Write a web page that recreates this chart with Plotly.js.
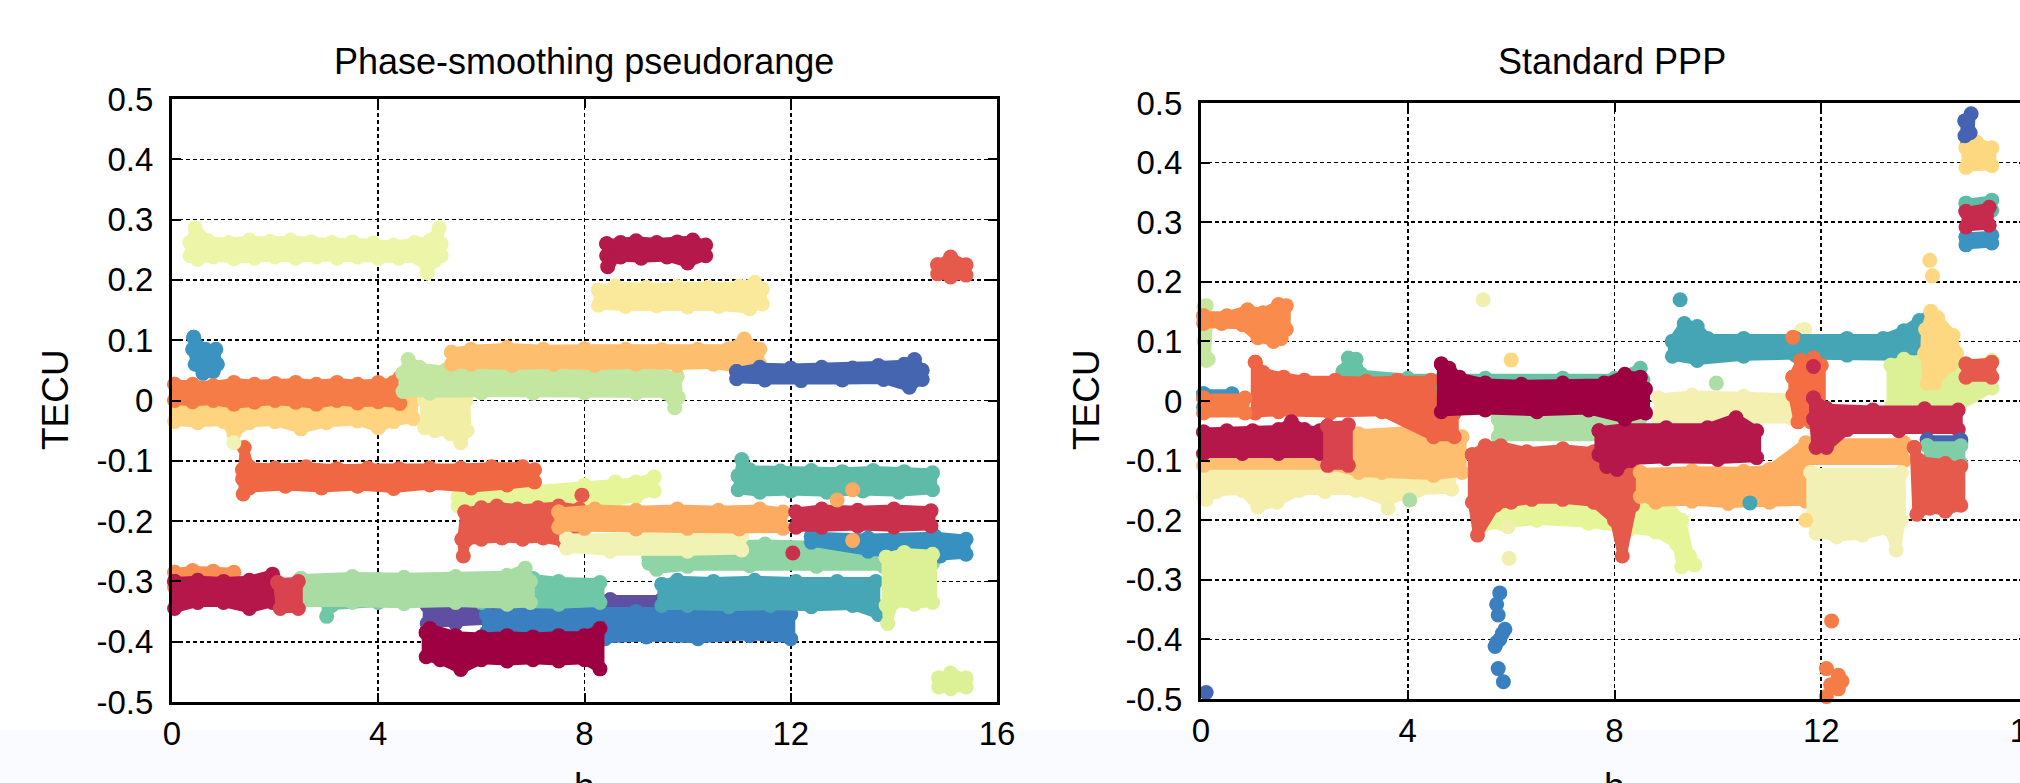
<!DOCTYPE html>
<html><head><meta charset="utf-8">
<script src="https://cdn.plot.ly/plotly-3.0.1.min.js"></script>
<style>html,body{margin:0;padding:0;overflow:hidden;background:#fff}#chart{width:2060px;height:783px}</style>
</head><body><div id="chart"></div>
<script>
// ================= DATA =================
const xTickVals = [0, 4, 8, 12, 16];
const xTickText = ['0', '4', '8', '12', '16'];
const yTickVals = [-0.5, -0.4, -0.3, -0.2, -0.1, 0, 0.1, 0.2, 0.3, 0.4, 0.5];
const yTickText = ['-0.5', '-0.4', '-0.3', '-0.2', '-0.1', '0', '0.1', '0.2', '0.3', '0.4', '0.5'];
const panelTitles = ['Phase-smoothing pseudorange', 'Standard PPP'];
const yAxisLabel = 'TECU';
const xAxisLabel = 'h';

// ---- Phase-smoothing pseudorange: outline points of each satellite's band (h, TECU) ----
const ps_lightOrange0_x = [0.05, 1.0, 2.0, 3.0, 4.0, 4.68, 4.68, 4.3, 4.0, 3.6, 3.0, 2.5, 2.0, 1.5, 1.2, 1.0, 0.5, 0.05];
const ps_lightOrange0_y = [0.0, 0.0, 0.0, 0.0, 0.0, 0.0, -0.03, -0.035, -0.045, -0.034, -0.037, -0.047, -0.035, -0.037, -0.055, -0.035, -0.037, -0.035];
const ps_blue0_x = [0.42, 0.5, 0.65, 0.85, 0.88, 0.8, 0.6, 0.45, 0.4];
const ps_blue0_y = [0.105, 0.09, 0.085, 0.085, 0.06, 0.048, 0.045, 0.06, 0.085];
const ps_orange0_x = [0.05, 0.4, 0.8, 1.2, 1.6, 2.0, 2.4, 2.8, 3.2, 3.6, 4.0, 4.3, 4.42, 4.42, 4.0, 3.6, 3.2, 2.8, 2.4, 2.0, 1.6, 1.2, 0.8, 0.4, 0.05];
const ps_orange0_y = [0.027, 0.027, 0.025, 0.03, 0.027, 0.028, 0.03, 0.027, 0.03, 0.027, 0.03, 0.03, 0.038, -0.005, -0.002, -0.004, 0.0, -0.006, -0.003, 0.0, -0.003, -0.006, 0.0, -0.002, 0.0];
const ps_paleGreen0_x = [0.35, 0.45, 0.7, 1.1, 1.5, 1.9, 2.3, 2.7, 3.1, 3.5, 3.9, 4.3, 4.7, 5.0, 5.18, 5.22, 5.22, 5.1, 4.95, 4.8, 4.4, 4.0, 3.6, 3.2, 2.8, 2.4, 2.0, 1.6, 1.2, 0.8, 0.5, 0.35];
const ps_paleGreen0_y = [0.262, 0.286, 0.265, 0.262, 0.266, 0.264, 0.266, 0.263, 0.262, 0.263, 0.261, 0.258, 0.262, 0.265, 0.286, 0.26, 0.24, 0.232, 0.212, 0.235, 0.236, 0.236, 0.238, 0.236, 0.238, 0.236, 0.238, 0.236, 0.235, 0.238, 0.234, 0.24];
const ps_khaki0_x = [4.9, 5.2, 5.5, 5.7, 5.72, 5.6, 5.4, 5.1, 4.9];
const ps_khaki0_y = [0.0, 0.005, 0.006, 0.0, -0.05, -0.07, -0.055, -0.05, -0.045];
const ps_lightGreen0_x = [4.48, 4.58, 4.8, 5.3, 6.5, 8.0, 9.3, 9.8, 9.82, 9.75, 9.6, 9.0, 8.0, 7.0, 6.0, 5.0, 4.48];
const ps_lightGreen0_y = [0.045, 0.068, 0.055, 0.05, 0.05, 0.05, 0.048, 0.04, 0.005, -0.012, 0.012, 0.012, 0.013, 0.012, 0.013, 0.012, 0.015];
const ps_lightOrange1_x = [5.42, 5.8, 6.5, 7.2, 8.0, 8.8, 9.5, 10.2, 10.8, 11.1, 11.4, 11.4, 11.2, 10.5, 9.8, 9.0, 8.2, 7.4, 6.6, 5.8, 5.42];
const ps_lightOrange1_y = [0.08, 0.085, 0.088, 0.085, 0.086, 0.085, 0.084, 0.085, 0.086, 0.102, 0.085, 0.06, 0.05, 0.06, 0.058, 0.06, 0.058, 0.06, 0.058, 0.06, 0.06];
const ps_paleYellow0_x = [8.27, 8.6, 9.2, 9.8, 10.4, 11.0, 11.3, 11.45, 11.45, 11.2, 10.6, 10.0, 9.4, 8.8, 8.27];
const ps_paleYellow0_y = [0.183, 0.19, 0.188, 0.189, 0.188, 0.19, 0.196, 0.185, 0.16, 0.152, 0.156, 0.155, 0.157, 0.156, 0.158];
const ps_crimson0_x = [8.43, 8.7, 9.0, 9.4, 9.8, 10.1, 10.35, 10.35, 10.0, 9.6, 9.1, 8.7, 8.5, 8.45, 8.43];
const ps_crimson0_y = [0.26, 0.262, 0.265, 0.262, 0.263, 0.266, 0.258, 0.24, 0.228, 0.238, 0.236, 0.238, 0.232, 0.222, 0.24];
const ps_darkBlue0_x = [10.95, 11.4, 12.0, 12.6, 13.2, 13.7, 14.2, 14.4, 14.55, 14.55, 14.3, 13.8, 13.0, 12.2, 11.5, 10.95];
const ps_darkBlue0_y = [0.048, 0.055, 0.054, 0.055, 0.054, 0.058, 0.06, 0.068, 0.05, 0.035, 0.022, 0.035, 0.034, 0.033, 0.034, 0.036];
const ps_red0_x = [14.85, 15.1, 15.4, 15.4, 15.1, 14.85];
const ps_red0_y = [0.225, 0.238, 0.225, 0.208, 0.205, 0.21];
const ps_yellowGreen0_x = [5.55, 6.0, 7.0, 8.0, 8.6, 9.0, 9.35, 9.35, 9.0, 8.0, 7.0, 6.0, 5.55];
const ps_yellowGreen0_y = [-0.16, -0.15, -0.148, -0.14, -0.135, -0.135, -0.127, -0.15, -0.16, -0.18, -0.178, -0.178, -0.175];
const ps_orangeRed0_x = [1.37, 1.4, 1.5, 2.0, 2.6, 3.2, 3.8, 4.4, 5.0, 5.6, 6.2, 6.8, 7.03, 7.03, 6.5, 5.8, 5.0, 4.3, 3.6, 2.9, 2.2, 1.5, 1.38, 1.37];
const ps_orangeRed0_y = [-0.115, -0.078, -0.11, -0.112, -0.11, -0.113, -0.112, -0.113, -0.112, -0.112, -0.11, -0.11, -0.115, -0.135, -0.14, -0.145, -0.14, -0.146, -0.142, -0.145, -0.142, -0.145, -0.155, -0.13];
const ps_red1_x = [5.68, 6.0, 6.3, 6.7, 7.1, 7.5, 7.9, 7.9, 7.6, 7.2, 6.8, 6.4, 6.0, 5.7, 5.65, 5.62];
const ps_red1_y = [-0.185, -0.178, -0.175, -0.18, -0.178, -0.175, -0.18, -0.225, -0.235, -0.228, -0.23, -0.228, -0.23, -0.232, -0.258, -0.23];
const ps_green0_x = [9.25, 9.6, 10.5, 11.5, 12.5, 13.5, 14.2, 14.75, 14.75, 13.8, 12.5, 11.2, 10.0, 9.4, 9.25];
const ps_green0_y = [-0.26, -0.245, -0.24, -0.238, -0.24, -0.238, -0.24, -0.245, -0.27, -0.275, -0.275, -0.274, -0.275, -0.28, -0.27];
const ps_pale0_x = [7.65, 9.0, 10.5, 11.05, 11.05, 10.0, 8.5, 7.65];
const ps_pale0_y = [-0.228, -0.225, -0.225, -0.225, -0.248, -0.25, -0.25, -0.245];
const ps_orange1_x = [7.5, 8.2, 9.0, 9.8, 10.6, 11.4, 11.85, 11.85, 11.0, 10.0, 9.0, 8.0, 7.5];
const ps_orange1_y = [-0.185, -0.18, -0.182, -0.18, -0.182, -0.18, -0.185, -0.212, -0.213, -0.212, -0.213, -0.212, -0.21];
const ps_teal0_x = [10.98, 11.05, 11.2, 11.8, 12.4, 13.0, 13.6, 14.2, 14.75, 14.75, 14.1, 13.4, 12.7, 12.0, 11.4, 10.98];
const ps_teal0_y = [-0.125, -0.098, -0.115, -0.117, -0.116, -0.118, -0.116, -0.118, -0.12, -0.148, -0.152, -0.15, -0.152, -0.15, -0.152, -0.148];
const ps_blue1_x = [12.4, 13.5, 14.8, 15.4, 15.4, 14.9, 13.5, 12.4];
const ps_blue1_y = [-0.225, -0.228, -0.225, -0.23, -0.255, -0.258, -0.25, -0.235];
const ps_crimson1_x = [12.1, 12.6, 13.3, 14.0, 14.72, 14.72, 14.0, 13.3, 12.6, 12.1];
const ps_crimson1_y = [-0.185, -0.18, -0.182, -0.18, -0.183, -0.208, -0.21, -0.208, -0.21, -0.21];
const ps_purple0_x = [4.95, 6.5, 8.0, 8.5, 9.5, 10.65, 10.65, 9.0, 7.0, 5.5, 4.95];
const ps_purple0_y = [-0.34, -0.335, -0.335, -0.33, -0.33, -0.335, -0.345, -0.35, -0.36, -0.37, -0.37];
const ps_blue2_x = [6.1, 7.0, 8.0, 9.0, 10.0, 11.0, 12.0, 12.0, 11.2, 10.2, 9.2, 8.4, 7.5, 6.5, 6.1];
const ps_blue2_y = [-0.355, -0.348, -0.35, -0.35, -0.352, -0.35, -0.355, -0.395, -0.39, -0.395, -0.392, -0.395, -0.39, -0.392, -0.385];
const ps_tealBlue0_x = [9.5, 9.8, 10.5, 11.3, 12.1, 12.9, 13.65, 13.65, 13.7, 13.2, 12.4, 11.6, 10.8, 10.0, 9.5];
const ps_tealBlue0_y = [-0.305, -0.298, -0.3, -0.298, -0.3, -0.3, -0.3, -0.34, -0.355, -0.34, -0.342, -0.34, -0.342, -0.34, -0.34];
const ps_yellowGreen1_x = [13.85, 14.2, 14.75, 14.75, 14.4, 14.0, 13.88, 13.85];
const ps_yellowGreen1_y = [-0.26, -0.252, -0.255, -0.335, -0.338, -0.335, -0.37, -0.34];
const ps_yellowGreen2_x = [14.87, 15.1, 15.4, 15.4, 15.1, 14.87];
const ps_yellowGreen2_y = [-0.46, -0.452, -0.46, -0.475, -0.478, -0.475];
const ps_darkCrimson0_x = [4.93, 5.0, 5.5, 6.0, 6.5, 7.0, 7.5, 8.0, 8.3, 8.3, 8.0, 7.5, 7.0, 6.5, 6.0, 5.6, 5.2, 4.93];
const ps_darkCrimson0_y = [-0.385, -0.378, -0.39, -0.392, -0.39, -0.392, -0.39, -0.39, -0.378, -0.445, -0.43, -0.432, -0.43, -0.432, -0.43, -0.446, -0.43, -0.425];
const ps_orange2_x = [0.05, 0.4, 0.8, 1.2, 1.25, 0.8, 0.05];
const ps_orange2_y = [-0.285, -0.282, -0.283, -0.285, -0.335, -0.31, -0.31];
const ps_teal1_x = [2.95, 4.0, 5.5, 7.0, 7.5, 8.3, 8.3, 7.5, 6.0, 4.0, 3.1, 3.0];
const ps_teal1_y = [-0.3, -0.297, -0.298, -0.295, -0.3, -0.302, -0.335, -0.338, -0.335, -0.335, -0.34, -0.358];
const ps_lightGreen1_x = [2.5, 3.5, 4.5, 5.5, 6.5, 6.85, 6.95, 6.95, 6.5, 5.5, 4.5, 3.5, 2.5];
const ps_lightGreen1_y = [-0.295, -0.292, -0.293, -0.292, -0.29, -0.278, -0.3, -0.335, -0.338, -0.335, -0.337, -0.335, -0.335];
const ps_crimson2_x = [0.05, 0.5, 1.0, 1.5, 1.95, 1.95, 1.5, 1.0, 0.5, 0.05];
const ps_crimson2_y = [-0.3, -0.298, -0.3, -0.298, -0.288, -0.335, -0.345, -0.335, -0.335, -0.345];
const ps_red2_x = [2.05, 2.45, 2.45, 2.1];
const ps_red2_y = [-0.302, -0.3, -0.345, -0.345];
// isolated points
const ps_dotsOrange_x = [12.9, 13.2, 13.2];
const ps_dotsOrange_y = [-0.165, -0.148, -0.232];
const ps_dotsRed_x = [7.95];
const ps_dotsRed_y = [-0.157];
const ps_dotsCrimson_x = [12.04];
const ps_dotsCrimson_y = [-0.253];
const ps_dotsPale_x = [1.2];
const ps_dotsPale_y = [-0.07];

// ---- Standard PPP ----
const sp_pale0_x = [0.05, 1.5, 3.0, 4.85, 4.85, 4.2, 3.6, 3.0, 2.4, 1.9, 1.47, 1.1, 0.8, 0.3, 0.1, 0.05];
const sp_pale0_y = [-0.11, -0.11, -0.11, -0.115, -0.148, -0.15, -0.168, -0.15, -0.152, -0.15, -0.17, -0.178, -0.15, -0.152, -0.165, -0.16];
const sp_lightOrange0_x = [0.05, 2.5, 3.05, 4.0, 5.05, 5.05, 4.5, 3.5, 3.05, 2.5, 0.05];
const sp_lightOrange0_y = [-0.09, -0.09, -0.055, -0.05, -0.06, -0.12, -0.125, -0.12, -0.12, -0.108, -0.108];
const sp_lightGreen0_x = [5.75, 8.5, 8.5, 5.75];
const sp_lightGreen0_y = [-0.03, -0.03, -0.06, -0.06];
const sp_yellowGreen0_x = [5.45, 6.5, 7.5, 8.5, 9.0, 9.3, 9.45, 9.55, 9.3, 9.2, 8.8, 8.3, 7.5, 6.5, 5.8, 5.45];
const sp_yellowGreen0_y = [-0.17, -0.17, -0.17, -0.165, -0.17, -0.2, -0.26, -0.275, -0.278, -0.24, -0.22, -0.215, -0.205, -0.2, -0.205, -0.21];
const sp_red0_x = [5.25, 5.5, 5.8, 6.3, 7.0, 7.6, 8.0, 8.35, 8.35, 8.15, 8.0, 7.6, 7.0, 6.4, 6.0, 5.7, 5.35, 5.25];
const sp_red0_y = [-0.09, -0.075, -0.075, -0.085, -0.08, -0.085, -0.08, -0.1, -0.175, -0.26, -0.2, -0.17, -0.165, -0.165, -0.17, -0.175, -0.225, -0.17];
const sp_teal0_x = [2.75, 2.85, 3.0, 3.1, 4.0, 5.5, 7.0, 8.0, 8.5, 8.55, 8.55, 7.0, 5.0, 3.0, 2.75];
const sp_teal0_y = [0.05, 0.072, 0.07, 0.045, 0.038, 0.038, 0.038, 0.038, 0.055, 0.035, 0.02, 0.02, 0.02, 0.02, 0.02];
const sp_orangeRed0_x = [1.05, 1.2, 1.6, 2.0, 2.6, 3.2, 3.8, 4.45, 4.5, 4.9, 4.9, 4.5, 3.5, 2.5, 1.5, 1.05];
const sp_orangeRed0_y = [0.065, 0.048, 0.04, 0.035, 0.035, 0.033, 0.035, 0.035, -0.01, -0.02, -0.06, -0.06, -0.018, -0.02, -0.018, -0.02];
const sp_blue0_x = [0.05, 0.6, 0.6, 0.05];
const sp_blue0_y = [0.012, 0.012, -0.01, -0.01];
const sp_orange0_x = [0.05, 0.85, 0.85, 0.05];
const sp_orange0_y = [0.005, 0.005, -0.02, -0.02];
const sp_lightGreen1_x = [0.06, 0.1, 0.14, 0.14, 0.1, 0.06];
const sp_lightGreen1_y = [0.158, 0.16, 0.13, 0.07, 0.068, 0.1];
const sp_orange1_x = [0.05, 0.5, 0.9, 1.2, 1.5, 1.65, 1.65, 1.55, 1.4, 1.1, 0.8, 0.4, 0.05];
const sp_orange1_y = [0.143, 0.143, 0.153, 0.148, 0.162, 0.16, 0.12, 0.105, 0.1, 0.106, 0.128, 0.13, 0.13];
const sp_crimson0_x = [0.05, 0.5, 1.0, 1.5, 1.75, 2.0, 2.3, 2.3, 1.5, 0.8, 0.05];
const sp_crimson0_y = [-0.052, -0.05, -0.05, -0.048, -0.035, -0.048, -0.05, -0.088, -0.088, -0.088, -0.088];
const sp_red1_x = [2.45, 2.85, 2.85, 2.45];
const sp_red1_y = [-0.042, -0.04, -0.108, -0.108];
const sp_pale1_x = [8.85, 9.5, 10.5, 11.45, 11.45, 10.0, 8.85];
const sp_pale1_y = [0.005, 0.01, 0.008, 0.005, -0.03, -0.03, -0.03];
const sp_pale3_x = [11.62, 11.68, 11.68, 11.62];
const sp_pale3_y = [0.118, 0.12, 0.095, 0.092];
const sp_orange2_x = [8.5, 9.5, 10.5, 11.0, 11.7, 13.6, 13.6, 11.7, 11.7, 11.0, 10.2, 9.5, 8.8, 8.5];
const sp_orange2_y = [-0.12, -0.117, -0.118, -0.115, -0.07, -0.07, -0.1, -0.1, -0.168, -0.17, -0.172, -0.168, -0.17, -0.16];
const sp_crimson1_x = [7.7, 8.2, 9.0, 9.8, 10.35, 10.75, 10.75, 10.0, 9.0, 8.3, 8.05, 7.85, 7.7];
const sp_crimson1_y = [-0.05, -0.045, -0.045, -0.045, -0.028, -0.05, -0.095, -0.098, -0.097, -0.1, -0.115, -0.11, -0.09];
const sp_darkCrimson0_x = [4.65, 4.8, 5.0, 5.5, 6.2, 7.0, 7.8, 8.2, 8.5, 8.6, 8.6, 8.2, 7.5, 6.5, 5.5, 4.65];
const sp_darkCrimson0_y = [0.062, 0.055, 0.04, 0.03, 0.028, 0.03, 0.03, 0.045, 0.04, 0.02, -0.02, -0.03, -0.015, -0.018, -0.015, -0.018];
const sp_pale2_x = [11.8, 13.55, 13.55, 13.45, 13.3, 12.8, 12.3, 11.9, 11.8];
const sp_pale2_y = [-0.12, -0.12, -0.2, -0.25, -0.215, -0.225, -0.228, -0.222, -0.2];
const sp_tealBlue0_x = [9.12, 9.35, 9.6, 9.8, 10.5, 11.5, 12.5, 13.2, 13.6, 13.9, 14.05, 14.05, 13.5, 12.5, 11.5, 10.5, 9.6, 9.12];
const sp_tealBlue0_y = [0.1, 0.13, 0.125, 0.105, 0.105, 0.105, 0.105, 0.105, 0.118, 0.135, 0.138, 0.09, 0.075, 0.077, 0.077, 0.075, 0.068, 0.075];
const sp_yellowGreen1_x = [13.35, 13.6, 14.0, 14.65, 15.3, 15.3, 14.65, 13.35];
const sp_yellowGreen1_y = [0.06, 0.07, 0.068, 0.058, 0.068, 0.022, -0.01, -0.01];
const sp_orangeRed1_x = [11.45, 11.6, 11.85, 12.0, 12.0, 11.8, 11.55, 11.45];
const sp_orangeRed1_y = [0.04, 0.068, 0.072, 0.06, -0.03, -0.035, -0.035, 0.01];
const sp_crimson2_x = [11.85, 12.1, 13.0, 14.0, 14.65, 14.65, 13.5, 12.5, 12.1, 11.9, 11.85];
const sp_crimson2_y = [0.005, -0.012, -0.015, -0.013, -0.015, -0.048, -0.05, -0.048, -0.078, -0.078, -0.03];
const sp_yellow0_x = [14.12, 14.25, 14.55, 14.62, 14.5, 14.2, 14.05, 14.0, 14.02];
const sp_yellow0_y = [0.15, 0.14, 0.11, 0.08, 0.06, 0.03, 0.03, 0.08, 0.12];
const sp_red2_x = [14.8, 15.3, 15.3, 14.8];
const sp_red2_y = [0.062, 0.065, 0.04, 0.04];
const sp_darkBlue0_x = [14.05, 14.7, 14.7, 14.05];
const sp_darkBlue0_y = [-0.065, -0.065, -0.07, -0.07];
const sp_green0_x = [14.05, 14.7, 14.7, 14.1];
const sp_green0_y = [-0.075, -0.075, -0.105, -0.108];
const sp_red3_x = [13.8, 13.9, 14.4, 14.7, 14.7, 14.4, 14.1, 13.85];
const sp_red3_y = [-0.078, -0.1, -0.105, -0.11, -0.175, -0.185, -0.18, -0.19];
const sp_blue1_x = [14.8, 15.3, 15.3, 14.8];
const sp_blue1_y = [0.275, 0.278, 0.265, 0.262];
const sp_teal1_x = [14.8, 15.3, 15.3, 14.8];
const sp_teal1_y = [0.332, 0.337, 0.32, 0.32];
const sp_crimson3_x = [14.8, 15.25, 15.25, 14.8];
const sp_crimson3_y = [0.318, 0.325, 0.295, 0.292];
const sp_yellow1_x = [14.8, 15.0, 15.3, 15.3, 14.8];
const sp_yellow1_y = [0.425, 0.435, 0.425, 0.395, 0.392];
const sp_darkBlue1_x = [14.78, 14.9, 14.88, 14.78];
const sp_darkBlue1_y = [0.47, 0.482, 0.45, 0.445];
// isolated points
const sp_dotsBlue_x = [5.78, 5.72, 5.75, 5.88, 5.83, 5.78, 5.72, 5.69, 5.75, 5.85];
const sp_dotsBlue_y = [-0.322, -0.341, -0.359, -0.383, -0.39, -0.4, -0.405, -0.412, -0.449, -0.471];
const sp_dotsDarkBlue_x = [0.1];
const sp_dotsDarkBlue_y = [-0.489];
const sp_dotsOrange_x = [12.2, 12.1, 12.33, 12.4, 12.18, 12.33, 12.1, 11.45];
const sp_dotsOrange_y = [-0.369, -0.449, -0.46, -0.47, -0.476, -0.483, -0.496, 0.107];
const sp_dotsPale_x = [5.94, 5.96, 3.62, 5.46];
const sp_dotsPale_y = [-0.211, -0.264, -0.18, 0.17];
const sp_dotsYellow_x = [6.0, 14.1, 14.15, 11.7];
const sp_dotsYellow_y = [0.069, 0.236, 0.21, -0.2];
const sp_dotsGreen_x = [4.04, 9.97];
const sp_dotsGreen_y = [-0.166, 0.03];
const sp_dotsTeal_x = [9.27, 10.62];
const sp_dotsTeal_y = [0.17, -0.171];
const sp_dotsCrimson_x = [11.85];
const sp_dotsCrimson_y = [0.058];

// ================= STYLE / DRAWING =================
const W = 2060, H = 783;
const psBands = [
  [ps_lightOrange0_x, ps_lightOrange0_y, '#fed481'],
  [ps_blue0_x, ps_blue0_y, '#3a93c0'],
  [ps_orange0_x, ps_orange0_y, '#f57c46'],
  [ps_paleGreen0_x, ps_paleGreen0_y, '#edf5a8'],
  [ps_khaki0_x, ps_khaki0_y, '#f3eea6'],
  [ps_lightGreen0_x, ps_lightGreen0_y, '#c3e6a0'],
  [ps_lightOrange1_x, ps_lightOrange1_y, '#fdbe6e'],
  [ps_paleYellow0_x, ps_paleYellow0_y, '#fae99b'],
  [ps_crimson0_x, ps_crimson0_y, '#b5184a'],
  [ps_darkBlue0_x, ps_darkBlue0_y, '#4565b0'],
  [ps_red0_x, ps_red0_y, '#e55a4a'],
  [ps_yellowGreen0_x, ps_yellowGreen0_y, '#e6f598'],
  [ps_orangeRed0_x, ps_orangeRed0_y, '#f06744'],
  [ps_red1_x, ps_red1_y, '#e55a4a'],
  [ps_green0_x, ps_green0_y, '#8fd4a4'],
  [ps_pale0_x, ps_pale0_y, '#f1f3b4'],
  [ps_orange1_x, ps_orange1_y, '#fdab60'],
  [ps_teal0_x, ps_teal0_y, '#5ebba8'],
  [ps_blue1_x, ps_blue1_y, '#3791c0'],
  [ps_crimson1_x, ps_crimson1_y, '#c8304c'],
  [ps_purple0_x, ps_purple0_y, '#5e4fa2'],
  [ps_blue2_x, ps_blue2_y, '#3a7fc0'],
  [ps_tealBlue0_x, ps_tealBlue0_y, '#46a6b5'],
  [ps_yellowGreen1_x, ps_yellowGreen1_y, '#dcf096'],
  [ps_yellowGreen2_x, ps_yellowGreen2_y, '#dcf096'],
  [ps_darkCrimson0_x, ps_darkCrimson0_y, '#9e0142'],
  [ps_orange2_x, ps_orange2_y, '#f98e52'],
  [ps_teal1_x, ps_teal1_y, '#6ec8a8'],
  [ps_lightGreen1_x, ps_lightGreen1_y, '#a8dca2'],
  [ps_crimson2_x, ps_crimson2_y, '#b5174a'],
  [ps_red2_x, ps_red2_y, '#d9434e']
];
const psDots = [
  [ps_dotsOrange_x, ps_dotsOrange_y, '#fdab60'],
  [ps_dotsRed_x, ps_dotsRed_y, '#e55a4a'],
  [ps_dotsCrimson_x, ps_dotsCrimson_y, '#c8304c'],
  [ps_dotsPale_x, ps_dotsPale_y, '#f1f3b4']
];
const spBands = [
  [sp_pale0_x, sp_pale0_y, '#f6efab'],
  [sp_lightOrange0_x, sp_lightOrange0_y, '#fdbf6f'],
  [sp_lightGreen0_x, sp_lightGreen0_y, '#abdda4'],
  [sp_yellowGreen0_x, sp_yellowGreen0_y, '#e6f598'],
  [sp_red0_x, sp_red0_y, '#e55a4a'],
  [sp_teal0_x, sp_teal0_y, '#66c2a5'],
  [sp_orangeRed0_x, sp_orangeRed0_y, '#ee6445'],
  [sp_blue0_x, sp_blue0_y, '#3a93c0'],
  [sp_orange0_x, sp_orange0_y, '#f57c46'],
  [sp_lightGreen1_x, sp_lightGreen1_y, '#c5e7a0'],
  [sp_orange1_x, sp_orange1_y, '#f98c4c'],
  [sp_crimson0_x, sp_crimson0_y, '#b5174a'],
  [sp_red1_x, sp_red1_y, '#d8434e'],
  [sp_pale1_x, sp_pale1_y, '#f4f0b2'],
  [sp_pale3_x, sp_pale3_y, '#f4f0b2'],
  [sp_orange2_x, sp_orange2_y, '#fdae61'],
  [sp_crimson1_x, sp_crimson1_y, '#b5174a'],
  [sp_darkCrimson0_x, sp_darkCrimson0_y, '#9e0142'],
  [sp_pale2_x, sp_pale2_y, '#f3f0b5'],
  [sp_tealBlue0_x, sp_tealBlue0_y, '#45a5b5'],
  [sp_yellowGreen1_x, sp_yellowGreen1_y, '#dcf096'],
  [sp_orangeRed1_x, sp_orangeRed1_y, '#f46d43'],
  [sp_crimson2_x, sp_crimson2_y, '#c62b4d'],
  [sp_yellow0_x, sp_yellow0_y, '#fed880'],
  [sp_red2_x, sp_red2_y, '#e55a4a'],
  [sp_darkBlue0_x, sp_darkBlue0_y, '#4563b0'],
  [sp_green0_x, sp_green0_y, '#80cea8'],
  [sp_red3_x, sp_red3_y, '#e55a4a'],
  [sp_blue1_x, sp_blue1_y, '#3a93c0'],
  [sp_teal1_x, sp_teal1_y, '#5dbba8'],
  [sp_crimson3_x, sp_crimson3_y, '#c62b4d'],
  [sp_yellow1_x, sp_yellow1_y, '#fed880'],
  [sp_darkBlue1_x, sp_darkBlue1_y, '#4563b0']
];
const spDots = [
  [sp_dotsBlue_x, sp_dotsBlue_y, '#3a7fc0'],
  [sp_dotsDarkBlue_x, sp_dotsDarkBlue_y, '#4565b0'],
  [sp_dotsOrange_x, sp_dotsOrange_y, '#f57c46'],
  [sp_dotsPale_x, sp_dotsPale_y, '#f1efb0'],
  [sp_dotsYellow_x, sp_dotsYellow_y, '#fed880'],
  [sp_dotsGreen_x, sp_dotsGreen_y, '#abdda4'],
  [sp_dotsTeal_x, sp_dotsTeal_y, '#45a5b5'],
  [sp_dotsCrimson_x, sp_dotsCrimson_y, '#c62b4d']
];

const MS = 15, LW = 9;
function bandTrace(b, xa, ya) {
  const c = b[2];
  return { type: 'scatter', x: b[0].concat([b[0][0]]), y: b[1].concat([b[1][0]]), xaxis: xa, yaxis: ya,
    mode: 'lines+markers', fill: 'toself', fillcolor: c,
    line: { color: c, width: LW }, marker: { color: c, size: MS }, cliponaxis: false,
    hoverinfo: 'skip', showlegend: false };
}
function dotTrace(d, xa, ya) {
  return { type: 'scatter', x: d[0], y: d[1], xaxis: xa, yaxis: ya, mode: 'markers',
    marker: { color: d[2], size: MS }, cliponaxis: false, hoverinfo: 'skip', showlegend: false };
}
const traces = [];
psBands.forEach(b => traces.push(bandTrace(b, 'x', 'y')));
psDots.forEach(d => traces.push(dotTrace(d, 'x', 'y')));
spBands.forEach(b => traces.push(bandTrace(b, 'x2', 'y2')));
spDots.forEach(d => traces.push(dotTrace(d, 'x2', 'y2')));

const FONT = 'Liberation Sans, Arial, Helvetica, sans-serif';
function xAxis(dom, anchor) {
  return { domain: dom, anchor: anchor, range: [0, 16], tickmode: 'array', tickvals: xTickVals, ticktext: xTickText,
    showline: true, linecolor: '#000', linewidth: 3, mirror: 'ticks', ticks: 'inside', ticklen: 9, tickwidth: 2, tickcolor: '#000',
    showgrid: true, gridcolor: '#000', gridwidth: 1.6, griddash: '4px,3px', zeroline: false,
    tickfont: { family: FONT, size: 33, color: '#000' }, ticklabelstandoff: 0, fixedrange: true };
}
function yAxis(dom, anchor) {
  return { domain: dom, anchor: anchor, range: [-0.5, 0.5], tickmode: 'array', tickvals: yTickVals, ticktext: yTickText,
    showline: true, linecolor: '#000', linewidth: 3, mirror: 'ticks', ticks: 'inside', ticklen: 9, tickwidth: 2, tickcolor: '#000',
    showgrid: true, gridcolor: '#000', gridwidth: 1.6, griddash: '4px,3px', zeroline: false,
    tickfont: { family: FONT, size: 33, color: '#000' }, ticklabelstandoff: 9, fixedrange: true };
}
const px = v => v / W, py = v => 1 - v / H;
const ann = (text, x, y, size, angle) => ({ text: text, x: px(x), y: py(y), xref: 'paper', yref: 'paper',
  xanchor: 'center', yanchor: 'middle', showarrow: false, textangle: angle || 0,
  font: { family: FONT, size: size, color: '#000' } });

const layout = {
  width: W, height: H, autosize: false,
  margin: { l: 0, r: 0, t: 0, b: 0, pad: 0 },
  paper_bgcolor: '#ffffff', plot_bgcolor: '#ffffff',
  xaxis: xAxis([px(172), px(997)], 'y'),
  yaxis: yAxis([py(702), py(99)], 'x'),
  xaxis2: xAxis([px(1201), px(2028)], 'y2'),
  yaxis2: yAxis([py(699), py(103)], 'x2'),
  shapes: [
    { type: 'rect', xref: 'paper', yref: 'paper', x0: 0, x1: 1, y0: 0, y1: py(730), layer: 'below',
      fillcolor: '#f9fbfe', line: { width: 0 } }
  ],
  annotations: [
    ann(panelTitles[0], 584, 62, 36),
    ann(panelTitles[1], 1612, 62, 36),
    ann(yAxisLabel, 55, 400, 37, -90),
    ann(yAxisLabel, 1086, 400, 37, -90),
    ann(xAxisLabel, 584, 786, 37),
    ann(xAxisLabel, 1614, 786, 37)
  ],
  showlegend: false
};
Plotly.newPlot('chart', traces, layout, { displayModeBar: false, staticPlot: true });
</script></body></html>
